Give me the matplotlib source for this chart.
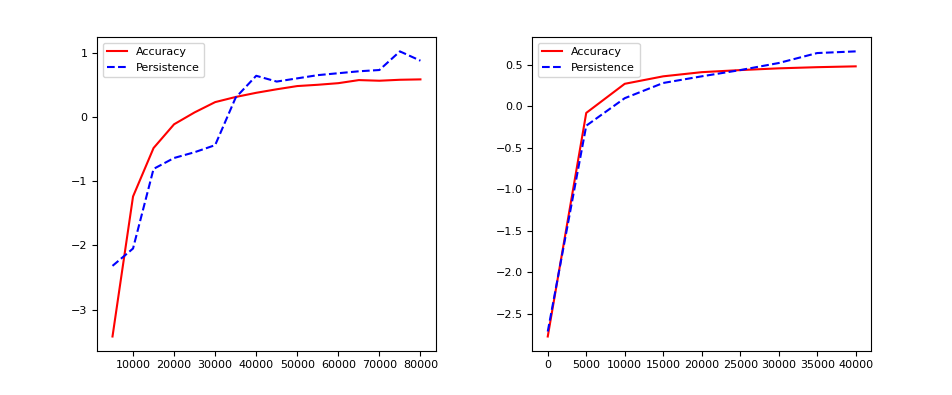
import matplotlib
matplotlib.use('Agg')
import matplotlib.pyplot as plt
from matplotlib.ticker import MultipleLocator

# steps for the two runs
steps_left = [5000, 10000, 15000, 20000, 25000, 30000, 35000, 40000,
              45000, 50000, 55000, 60000, 65000, 70000, 75000, 80000]
acc_left = [-3.42, -1.24, -0.485, -0.115, 0.07, 0.23, 0.31, 0.375,
            0.43, 0.48, 0.50, 0.525, 0.573, 0.563, 0.578, 0.584]
pers_left = [-2.32, -2.05, -0.81, -0.64, -0.55, -0.44, 0.30, 0.64,
             0.55, 0.60, 0.65, 0.68, 0.71, 0.73, 1.02, 0.875]

steps_right = [0, 5000, 10000, 15000, 20000, 25000, 30000, 35000, 40000]
acc_right = [-2.77, -0.08, 0.27, 0.36, 0.41, 0.435, 0.456, 0.47, 0.48]
pers_right = [-2.71, -0.234, 0.097, 0.28, 0.36, 0.435, 0.52, 0.64, 0.66]

plt.rcParams['font.size'] = 8

fig = plt.figure(figsize=(9.52, 3.95), dpi=100)
ax1 = fig.add_subplot(121)
ax1.plot(steps_left, acc_left, 'r-', label='Accuracy')
ax1.plot(steps_left, pers_left, 'b--', label='Persistence')
ax1.xaxis.set_major_locator(MultipleLocator(10000))
ax1.legend(loc='upper left', handlelength=1.8)

ax2 = fig.add_subplot(122)
ax2.plot(steps_right, acc_right, 'r-', label='Accuracy')
ax2.plot(steps_right, pers_right, 'b--', label='Persistence')
ax2.xaxis.set_major_locator(MultipleLocator(5000))
ax2.legend(loc='upper left', handlelength=1.8)

plt.subplots_adjust(left=0.102, right=0.915, top=0.906, bottom=0.112, wspace=0.285)
plt.savefig('out.png', dpi=100)
